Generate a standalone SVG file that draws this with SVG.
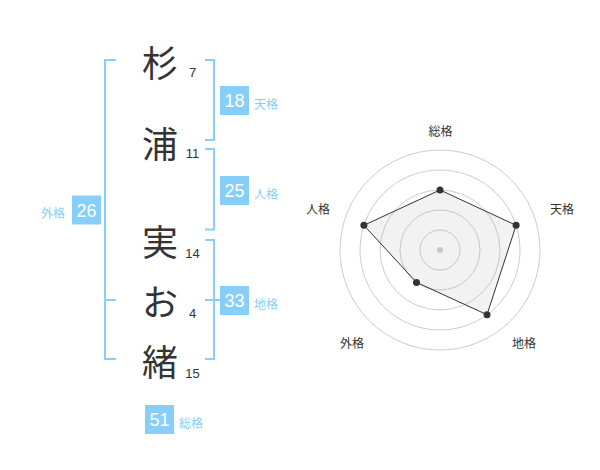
<svg xmlns="http://www.w3.org/2000/svg" width="600" height="470" viewBox="0 0 600 470">
<style>
.ch{font-family:"Noto Sans CJK JP","Noto Sans CJK SC",sans-serif;font-size:36px;fill:#333;text-anchor:middle;dominant-baseline:central}
.num{font-family:"Liberation Sans",Arial,sans-serif;font-size:13px;fill:#333;text-anchor:middle}
.br{fill:none;stroke:#87CEFA;stroke-width:2}
.box{fill:#87CEFA}
.bt{font-family:"Liberation Sans",Arial,sans-serif;font-size:18px;fill:#fff;text-anchor:middle}
.lb{font-family:"Noto Sans CJK JP","Noto Sans CJK SC",sans-serif;font-size:12px;fill:#87CEFA}
.grid{fill:none;stroke:#ccc;stroke-width:1}
.rl{font-family:"Noto Sans CJK JP","Noto Sans CJK SC",sans-serif;font-size:12px;fill:#333;text-anchor:middle;dominant-baseline:central}
.pt{fill:#333}
</style>
<rect width="600" height="470" fill="#fff"/>
<g id="connectors">
<path class="br" d="M116,60 H105 V359 H116 M105,300 H116"/>
<path class="br" d="M205,60 H214 V140 H205"/>
<path class="br" d="M205,149 H214 V229.5 H205"/>
<path class="br" d="M205,240 H214 V359 H205 M205,300 H220"/>
</g>
<g id="char1"><text class="ch" x="160" y="60.5">杉</text><text class="num" x="192.5" y="77">7</text></g>
<g id="char2"><text class="ch" x="160" y="142">浦</text><text class="num" x="192.5" y="158">11</text></g>
<g id="char3"><text class="ch" x="160" y="240">実</text><text class="num" x="192.5" y="258">14</text></g>
<g id="char4"><text class="ch" x="160" y="300">お</text><text class="num" x="192.5" y="317.5">4</text></g>
<g id="char5"><text class="ch" x="160" y="360">緒</text><text class="num" x="192.5" y="377.5">15</text></g>
<g id="tenkaku"><rect class="box" x="220" y="86" width="29" height="29"/><text class="bt" x="234.5" y="107">18</text><text class="lb" x="254" y="108.5">天格</text></g>
<g id="jinkaku"><rect class="box" x="220" y="176" width="29" height="29"/><text class="bt" x="234.5" y="197">25</text><text class="lb" x="254" y="198.5">人格</text></g>
<g id="chikaku"><rect class="box" x="220" y="286" width="29" height="29"/><text class="bt" x="234.5" y="307">33</text><text class="lb" x="254" y="308.5">地格</text></g>
<g id="gaikaku"><rect class="box" x="72" y="195.5" width="29" height="29"/><text class="bt" x="86.5" y="216.5">26</text><text class="lb" x="41" y="218">外格</text></g>
<g id="soukaku"><rect class="box" x="145" y="405" width="29" height="29"/><text class="bt" x="159.5" y="426">51</text><text class="lb" x="179" y="427.5">総格</text></g>
<g id="radar">
<circle class="grid" cx="440" cy="250" r="20"/>
<circle class="grid" cx="440" cy="250" r="40"/>
<circle class="grid" cx="440" cy="250" r="60"/>
<circle class="grid" cx="440" cy="250" r="80"/>
<circle class="grid" cx="440" cy="250" r="100"/>
<circle cx="440" cy="250" r="3" fill="#ccc"/>
<polygon points="440,190 516.1,225.3 487,314.7 416.5,282.4 363.9,225.3" fill="#aaa" fill-opacity="0.15" stroke="#333" stroke-width="1"/>
<circle class="pt" cx="440" cy="190" r="3.5"/>
<circle class="pt" cx="516.1" cy="225.3" r="3.5"/>
<circle class="pt" cx="487" cy="314.7" r="3.5"/>
<circle class="pt" cx="416.5" cy="282.4" r="3.5"/>
<circle class="pt" cx="363.9" cy="225.3" r="3.5"/>
<text class="rl" x="440.5" y="130">総格</text>
<text class="rl" x="562" y="208">天格</text>
<text class="rl" x="524" y="342">地格</text>
<text class="rl" x="352" y="342">外格</text>
<text class="rl" x="318" y="208">人格</text>
</g>
</svg>
